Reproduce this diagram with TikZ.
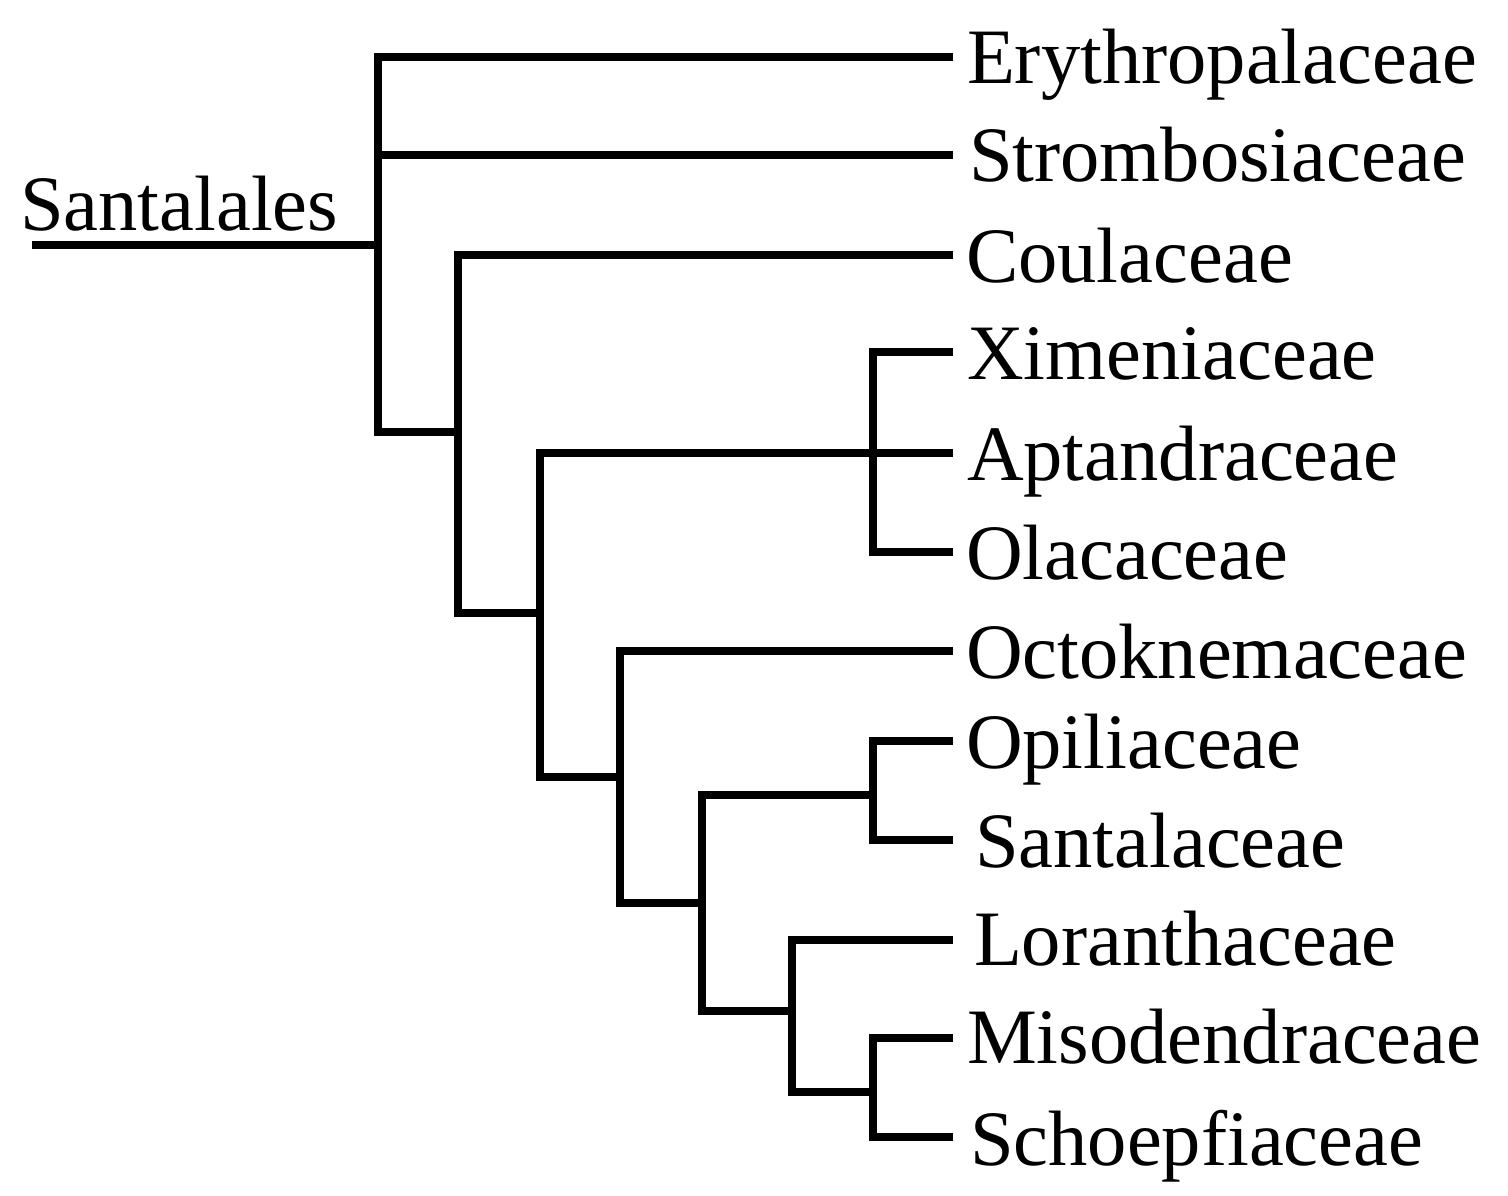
\documentclass[tikz,border=0pt]{standalone}
\usepackage{fontspec}
\setmainfont{Liberation Serif}
\begin{document}
\begin{tikzpicture}[x=1pt,y=-1pt,
  branch/.style={line width=8.5pt,line join=miter,line cap=butt},
  taxon/.style={anchor=base west,inner sep=0pt,outer sep=0pt,font=\fontsize{78.5}{80}\selectfont}]
\useasboundingbox (0,0) rectangle (1508,1196);
% internal nodes
\coordinate (root) at (32,245);
\coordinate (n1) at (378,245);
\coordinate (n2) at (458,432);
\coordinate (n3) at (540,613);
\coordinate (n4) at (873,453);
\coordinate (n5) at (620,777);
\coordinate (n6) at (702,903);
\coordinate (n7) at (873,795);
\coordinate (n8) at (792,1011);
\coordinate (n9) at (873,1092);
% leaf ends
\coordinate (eE) at (953,57);
\coordinate (eS) at (953,155);
\coordinate (eC) at (953,255);
\coordinate (eX) at (953,352);
\coordinate (eA) at (953,453);
\coordinate (eO) at (953,552);
\coordinate (eOc) at (953,651);
\coordinate (eOp) at (953,741);
\coordinate (eSa) at (953,840);
\coordinate (eL) at (953,940);
\coordinate (eM) at (953,1038);
\coordinate (eSc) at (953,1137);
% labels
\node[taxon] (lroot) at (20,230) {Santalales};
\node[taxon] (lE) at (967,84) {Erythropalaceae};
\node[taxon] (lS) at (969,182) {Strombosiaceae};
\node[taxon] (lC) at (966,282) {Coulaceae};
\node[taxon] (lX) at (967,379) {Ximeniaceae};
\node[taxon] (lA) at (967,480) {Aptandraceae};
\node[taxon] (lO) at (966,579) {Olacaceae};
\node[taxon] (lOc) at (966,678) {Octoknemaceae};
\node[taxon] (lOp) at (966,768) {Opiliaceae};
\node[taxon] (lSa) at (975,867) {Santalaceae};
\node[taxon] (lL) at (974,965) {Loranthaceae};
\node[taxon] (lM) at (967,1063) {Misodendraceae};
\node[taxon] (lSc) at (970,1165) {Schoepfiaceae};
% branches
\draw[branch] (root) -- (n1);
\draw[branch] (n1) |- (eE);
\draw[branch] (n1) |- (eS);
\draw[branch] (n1) |- (n2);
\draw[branch] (n2) |- (eC);
\draw[branch] (n2) |- (n3);
\draw[branch] (n3) |- (n4);
\draw[branch] (n3) |- (n5);
\draw[branch] (n4) |- (eX);
\draw[branch] (n4) -- (eA);
\draw[branch] (n4) |- (eO);
\draw[branch] (n5) |- (eOc);
\draw[branch] (n5) |- (n6);
\draw[branch] (n6) |- (n7);
\draw[branch] (n6) |- (n8);
\draw[branch] (n7) |- (eOp);
\draw[branch] (n7) |- (eSa);
\draw[branch] (n8) |- (eL);
\draw[branch] (n8) |- (n9);
\draw[branch] (n9) |- (eM);
\draw[branch] (n9) |- (eSc);
\end{tikzpicture}
\end{document}
